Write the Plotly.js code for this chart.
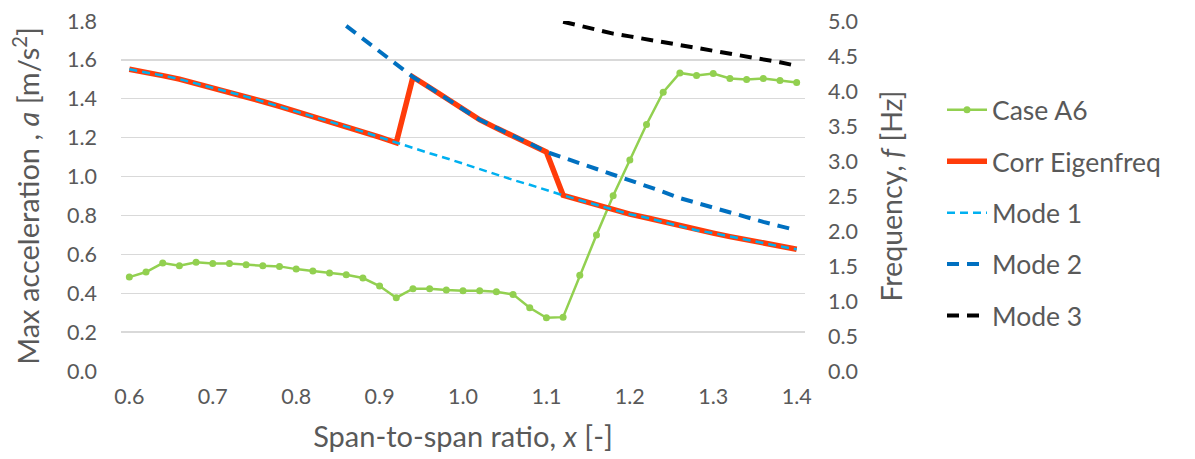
<!DOCTYPE html>
<html>
<head>
<meta charset="utf-8">
<script src="https://cdn.plot.ly/plotly-3.0.1.min.js"></script>
<style>
  html, body { margin: 0; padding: 0; background: #ffffff; }
  #chart { width: 1195px; height: 459px; }
</style>
</head>
<body>
<div id="chart"></div>
<script>
// Span-to-span ratio (step 0.02)
const ratio = [0.60, 0.62, 0.64, 0.66, 0.68, 0.70, 0.72, 0.74, 0.76, 0.78,
               0.80, 0.82, 0.84, 0.86, 0.88, 0.90, 0.92, 0.94, 0.96, 0.98,
               1.00, 1.02, 1.04, 1.06, 1.08, 1.10, 1.12, 1.14, 1.16, 1.18,
               1.20, 1.22, 1.24, 1.26, 1.28, 1.30, 1.32, 1.34, 1.36, 1.38, 1.40];

// Maximum acceleration [m/s2], case A6
const caseA6 = [0.483, 0.509, 0.555, 0.541, 0.559, 0.553, 0.553, 0.546, 0.541, 0.538,
                0.524, 0.514, 0.504, 0.495, 0.478, 0.437, 0.377, 0.423, 0.423, 0.416,
                0.413, 0.413, 0.407, 0.394, 0.325, 0.274, 0.277, 0.493, 0.699, 0.901,
                1.085, 1.268, 1.434, 1.533, 1.520, 1.530, 1.504, 1.499, 1.504, 1.494, 1.484];

// Corresponding eigenfrequency [Hz]
const corrEigen = [4.31, 4.27, 4.22, 4.17, 4.11, 4.05, 3.99, 3.92, 3.85, 3.78,
                   3.71, 3.64, 3.57, 3.49, 3.42, 3.34, 3.26, 4.20, 4.05, 3.89,
                   3.74, 3.59, 3.47, 3.36, 3.25, 3.13, 2.51, 2.44, 2.37, 2.30,
                   2.24, 2.19, 2.13, 2.07, 2.01, 1.97, 1.92, 1.87, 1.83, 1.78, 1.74];

// Mode 1 frequency [Hz], over the full ratio range
const mode1 = [4.31, 4.27, 4.22, 4.17, 4.11, 4.05, 3.99, 3.92, 3.85, 3.78,
               3.71, 3.64, 3.57, 3.49, 3.42, 3.34, 3.26, 3.19, 3.11, 3.04,
               2.96, 2.89, 2.81, 2.73, 2.66, 2.58, 2.51, 2.44, 2.37, 2.30,
               2.24, 2.19, 2.13, 2.07, 2.01, 1.97, 1.92, 1.87, 1.83, 1.78, 1.74];

// Mode 2 frequency [Hz], from ratio 0.86
const ratioMode2 = [0.86, 0.88, 0.90, 0.92, 0.94, 0.96, 0.98, 1.00, 1.02, 1.04,
                    1.06, 1.08, 1.10, 1.12, 1.14, 1.16, 1.18, 1.20, 1.22, 1.24,
                    1.26, 1.28, 1.30, 1.32, 1.34, 1.36, 1.38, 1.40];
const mode2 = [4.93, 4.75, 4.56, 4.38, 4.20, 4.05, 3.89, 3.74, 3.59, 3.47,
               3.36, 3.25, 3.13, 3.05, 2.97, 2.89, 2.81, 2.73, 2.64, 2.56,
               2.47, 2.40, 2.33, 2.26, 2.19, 2.13, 2.07, 2.01];

// Mode 3 frequency [Hz], from ratio 1.12
const ratioMode3 = [1.12, 1.14, 1.16, 1.18, 1.20, 1.22, 1.24, 1.26, 1.28, 1.30,
                    1.32, 1.34, 1.36, 1.38, 1.40];
const mode3 = [4.99, 4.93, 4.87, 4.82, 4.78, 4.74, 4.70, 4.66, 4.62, 4.58,
               4.54, 4.50, 4.46, 4.41, 4.36];

const xTicks = [0.6, 0.7, 0.8, 0.9, 1.0, 1.1, 1.2, 1.3, 1.4];

const FONT = 'Lato, "Open Sans", sans-serif';
const GREY = '#595959';
const GRID = '#d9d9d9';
const TICK_SIZE = 21.5;
const TITLE_SIZE = 29;

const traces = [
  {
    name: 'Case A6', x: ratio, y: caseA6, yaxis: 'y', legendgroup: 'g1',
    mode: 'lines+markers', type: 'scatter',
    line: { color: '#92d050', width: 2.5 },
    marker: { color: '#92d050', size: 7, symbol: 'circle' }
  },
  {
    name: 'Corr Eigenfreq', x: ratio, y: corrEigen, yaxis: 'y2', legendgroup: 'g2',
    mode: 'lines', type: 'scatter',
    line: { color: '#ff3c0a', width: 5.5 }
  },
  {
    name: 'Mode 1', x: ratio, y: mode1, yaxis: 'y2', legendgroup: 'g3',
    mode: 'lines', type: 'scatter',
    line: { color: '#00b0f0', width: 2.5, dash: '8px,5px' }
  },
  {
    name: 'Mode 2', x: ratioMode2, y: mode2, yaxis: 'y2', legendgroup: 'g4',
    mode: 'lines', type: 'scatter',
    line: { color: '#0070c0', width: 4, dash: '12px,8px' }
  },
  {
    name: 'Mode 3', x: ratioMode3, y: mode3, yaxis: 'y2', legendgroup: 'g5',
    mode: 'lines', type: 'scatter',
    line: { color: '#000000', width: 4, dash: '12px,8px' }
  }
];

const layout = {
  width: 1195, height: 459,
  margin: { l: 121, r: 390, t: 21, b: 88 },
  paper_bgcolor: '#ffffff', plot_bgcolor: '#ffffff',
  font: { family: FONT, color: GREY, size: TICK_SIZE },
  showlegend: true,
  legend: {
    xref: 'container', yref: 'container',
    x: 942 / 1195, y: 1 - 86 / 459, xanchor: 'left', yanchor: 'top',
    font: { family: FONT, size: 26.5, color: GREY },
    traceorder: 'grouped', tracegroupgap: 14, maxheight: 420,
    itemwidth: 40, bgcolor: 'rgba(0,0,0,0)', borderwidth: 0
  },
  xaxis: {
    range: [0.59, 1.41], tickvals: xTicks, tickformat: '.1f',
    showgrid: false, zeroline: false, showline: false, ticks: '',
    ticklabelstandoff: 10,
    tickfont: { family: FONT, size: TICK_SIZE, color: GREY },
    title: { text: 'Span-to-span ratio, <i>x</i> [-]', font: { family: FONT, size: TITLE_SIZE, color: GREY }, standoff: 19 }
  },
  yaxis: {
    range: [0, 1.8], dtick: 0.2, tick0: 0, tickformat: '.1f',
    showgrid: true, gridcolor: GRID, gridwidth: 1.3, zeroline: false, showline: false, ticks: '',
    ticklabelstandoff: 23,
    tickfont: { family: FONT, size: TICK_SIZE, color: GREY },
    title: { text: 'Max acceleration , <i>a</i> [m/s<sup>2</sup>]', font: { family: FONT, size: TITLE_SIZE, color: GREY }, standoff: 18 }
  },
  yaxis2: {
    overlaying: 'y', side: 'right',
    range: [0, 5], dtick: 0.5, tick0: 0, tickformat: '.1f',
    showgrid: false, zeroline: false, showline: false, ticks: '',
    ticklabelstandoff: 22,
    tickfont: { family: FONT, size: TICK_SIZE, color: GREY },
    title: { text: 'Frequency, <i>f</i> [Hz]', font: { family: FONT, size: 28.5, color: GREY }, standoff: 25 }
  }
};

Plotly.newPlot('chart', traces, layout, { displayModeBar: false, staticPlot: true });
</script>
</body>
</html>
